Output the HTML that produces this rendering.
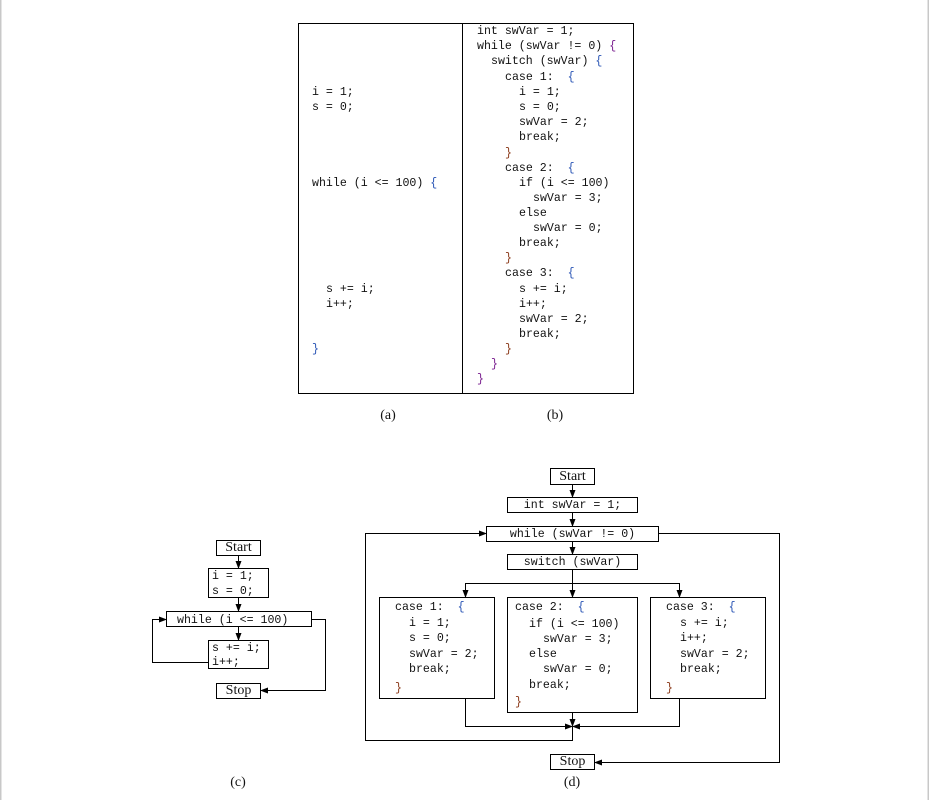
<!DOCTYPE html>
<html><head><meta charset="utf-8"><style>
html,body{margin:0;padding:0;background:#fff}
svg{display:block}
.m{font-family:"Liberation Mono",monospace;font-size:11.6px;fill:#111;white-space:pre}
.s{font-family:"Liberation Serif",serif;font-size:14px;fill:#111}
.b{fill:#2a55b5}.r{fill:#8b3a1a}.p{fill:#7a1f8f}
</style></head><body>
<svg width="929" height="800" viewBox="0 0 929 800" xmlns="http://www.w3.org/2000/svg">
<defs><marker id="a" markerWidth="8" markerHeight="6" refX="7" refY="3" orient="auto" markerUnits="userSpaceOnUse"><path d="M0,0 L8,3 L0,6 Z" fill="#000"/></marker></defs>
<rect x="0" y="0" width="1.5" height="800" fill="#c8c8c8"/>
<rect x="927.5" y="0" width="1.5" height="800" fill="#c8c8c8"/>
<g fill="none" stroke="#000" stroke-width="1">
<rect x="298.5" y="23.5" width="335" height="370"/>
<line x1="462.5" y1="23.5" x2="462.5" y2="393.5"/>
</g>
<g class="m" dominant-baseline="middle">
<text x="312" y="92">i = 1;</text>
<text x="312" y="107">s = 0;</text>
<text x="312" y="183">while (i &lt;= 100) <tspan class="b">{</tspan></text>
<text x="326" y="289">s += i;</text>
<text x="326" y="304">i++;</text>
<text x="312" y="349" class="b">}</text>

<text x="477" y="31">int swVar = 1;</text>
<text x="477" y="46">while (swVar != 0) <tspan class="p">{</tspan></text>
<text x="491" y="61">switch (swVar) <tspan class="b">{</tspan></text>
<text x="505" y="77">case 1:&#160;&#160;<tspan class="b">{</tspan></text>
<text x="519" y="92">i = 1;</text>
<text x="519" y="107">s = 0;</text>
<text x="519" y="122">swVar = 2;</text>
<text x="519" y="137">break;</text>
<text x="505" y="153" class="r">}</text>
<text x="505" y="168">case 2:&#160;&#160;<tspan class="b">{</tspan></text>
<text x="519" y="183">if (i &lt;= 100)</text>
<text x="533" y="198">swVar = 3;</text>
<text x="519" y="213">else</text>
<text x="533" y="228">swVar = 0;</text>
<text x="519" y="243">break;</text>
<text x="505" y="258" class="r">}</text>
<text x="505" y="273">case 3:&#160;&#160;<tspan class="b">{</tspan></text>
<text x="519" y="289">s += i;</text>
<text x="519" y="304">i++;</text>
<text x="519" y="319">swVar = 2;</text>
<text x="519" y="334">break;</text>
<text x="505" y="349" class="r">}</text>
<text x="491" y="364" class="p">}</text>
<text x="477" y="379" class="p">}</text>
</g>
<g class="s" text-anchor="middle" dominant-baseline="middle">
<text x="388" y="416">(a)</text>
<text x="555" y="416">(b)</text>
<text x="238" y="783">(c)</text>
<text x="572" y="783">(d)</text>
</g>

<!-- (c) -->
<g fill="none" stroke="#000" stroke-width="1">
<rect x="216.5" y="540.5" width="44" height="15"/>
<rect x="208.5" y="568.5" width="60" height="29"/>
<rect x="166.5" y="611.5" width="145" height="15"/>
<rect x="208.5" y="640.5" width="60" height="28"/>
<rect x="216.5" y="683.5" width="44" height="15"/>
<line x1="238.5" y1="555.5" x2="238.5" y2="568" marker-end="url(#a)"/>
<line x1="238.5" y1="597.5" x2="238.5" y2="611" marker-end="url(#a)"/>
<line x1="238.5" y1="626.5" x2="238.5" y2="640" marker-end="url(#a)"/>
<polyline points="208.5,662.5 152.5,662.5 152.5,619.5 166,619.5" marker-end="url(#a)"/>
<polyline points="311.5,619.5 325.5,619.5 325.5,690.5 261,690.5" marker-end="url(#a)"/>
</g>
<g class="s" text-anchor="middle" dominant-baseline="middle">
<text x="238.5" y="548">Start</text>
<text x="238.5" y="691">Stop</text>
</g>
<g class="m" dominant-baseline="middle">
<text x="212" y="576">i = 1;</text>
<text x="212" y="591">s = 0;</text>
<text x="177" y="620">while (i &lt;= 100)</text>
<text x="212" y="648">s += i;</text>
<text x="212" y="662">i++;</text>
</g>

<!-- (d) -->
<g fill="none" stroke="#000" stroke-width="1">
<rect x="550.5" y="468.5" width="44" height="16"/>
<rect x="507.5" y="497.5" width="130" height="15"/>
<rect x="486.5" y="526.5" width="172" height="15"/>
<rect x="507.5" y="554.5" width="130" height="15"/>
<rect x="379.5" y="597.5" width="115" height="101"/>
<rect x="507.5" y="597.5" width="130" height="115"/>
<rect x="650.5" y="597.5" width="115" height="101"/>
<rect x="550.5" y="754.5" width="44" height="15"/>
<line x1="572.5" y1="484.5" x2="572.5" y2="497" marker-end="url(#a)"/>
<line x1="572.5" y1="512.5" x2="572.5" y2="526" marker-end="url(#a)"/>
<line x1="572.5" y1="541.5" x2="572.5" y2="554" marker-end="url(#a)"/>
<line x1="572.5" y1="569.5" x2="572.5" y2="597" marker-end="url(#a)"/>
<polyline points="465.5,597 465.5,583.5 679.5,583.5 679.5,597"/>
<line x1="465.5" y1="588" x2="465.5" y2="597" marker-end="url(#a)"/>
<line x1="679.5" y1="588" x2="679.5" y2="597" marker-end="url(#a)"/>
<polyline points="465.5,698.5 465.5,726.5 572,726.5" marker-end="url(#a)"/>
<polyline points="679.5,698.5 679.5,726.5 573,726.5" marker-end="url(#a)"/>
<line x1="572.5" y1="712.5" x2="572.5" y2="726" marker-end="url(#a)"/>
<polyline points="572.5,726.5 572.5,740.5 365.5,740.5 365.5,533.5 486,533.5" marker-end="url(#a)"/>
<polyline points="658.5,533.5 779.5,533.5 779.5,762.5 595,762.5" marker-end="url(#a)"/>
</g>
<g class="s" text-anchor="middle" dominant-baseline="middle">
<text x="572.5" y="477">Start</text>
<text x="572.5" y="762">Stop</text>
</g>
<g class="m" dominant-baseline="middle">
<text x="572.5" y="505" text-anchor="middle">int swVar = 1;</text>
<text x="572.5" y="534" text-anchor="middle">while (swVar != 0)</text>
<text x="572.5" y="562" text-anchor="middle">switch (swVar)</text>
<text x="395" y="607">case 1:&#160;&#160;<tspan class="b">{</tspan></text>
<text x="409" y="623">i = 1;</text>
<text x="409" y="638">s = 0;</text>
<text x="409" y="654">swVar = 2;</text>
<text x="409" y="669">break;</text>
<text x="395" y="688" class="r">}</text>
<text x="515" y="607">case 2:&#160;&#160;<tspan class="b">{</tspan></text>
<text x="529" y="624">if (i &lt;= 100)</text>
<text x="543" y="639">swVar = 3;</text>
<text x="529" y="654">else</text>
<text x="543" y="669">swVar = 0;</text>
<text x="529" y="685">break;</text>
<text x="515" y="702" class="r">}</text>
<text x="666" y="607">case 3:&#160;&#160;<tspan class="b">{</tspan></text>
<text x="680" y="623">s += i;</text>
<text x="680" y="638">i++;</text>
<text x="680" y="654">swVar = 2;</text>
<text x="680" y="669">break;</text>
<text x="666" y="688" class="r">}</text>
</g>
</svg>
</body></html>
